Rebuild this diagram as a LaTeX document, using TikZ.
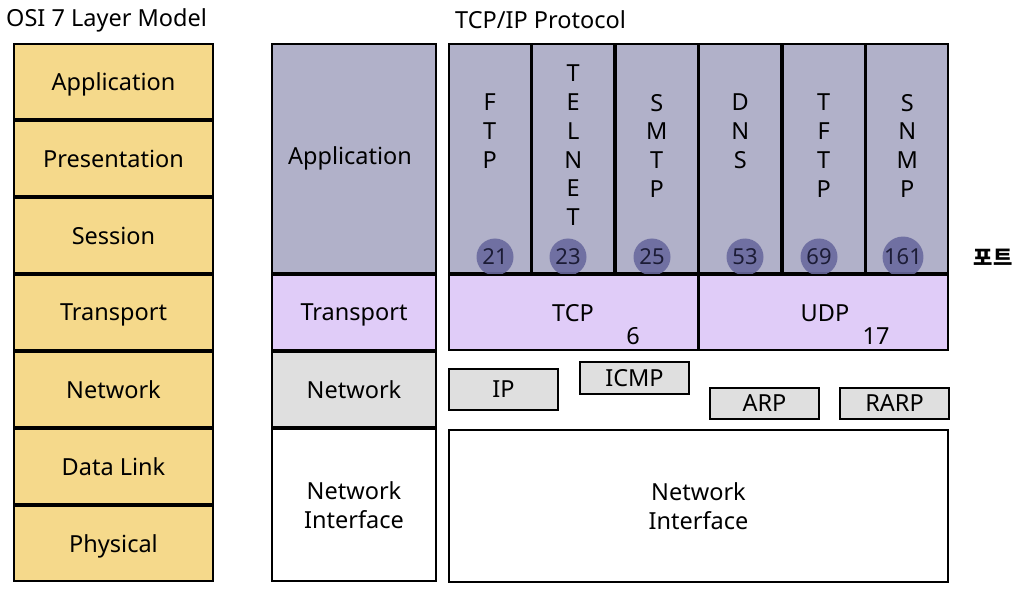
\documentclass[tikz,border=0pt]{standalone}
\usepackage{fontspec}
\setmainfont{Noto Sans}
\newfontfamily\krfont{Noto Sans CJK KR}
\usetikzlibrary{positioning}

\definecolor{osiyellow}{HTML}{F5D98B}
\definecolor{appgray}{HTML}{B1B1C9}
\definecolor{translav}{HTML}{E0CCF8}
\definecolor{netgray}{HTML}{DFDFDF}
\definecolor{portblue}{HTML}{6A6A9E}
\definecolor{portink}{HTML}{1C1C36}

\tikzset{
    txt/.style={font=\fontsize{23.5}{28.7}\selectfont, inner sep=0pt, align=center},
    layer/.style={txt, draw=black, line width=1.6pt, anchor=north west, text depth=0pt},
    osi/.style={layer, fill=osiyellow, minimum width=199.4pt, minimum height=75.4pt},
    mid/.style={layer, minimum width=164.4pt, minimum height=75.4pt},
    appcol/.style={layer, fill=appgray, minimum width=81.9pt, minimum height=229.4pt},
    trans/.style={layer, fill=translav, minimum width=248.9pt, minimum height=75.4pt},
    proto/.style={layer, fill=netgray, minimum width=109.4pt},
    port/.style={circle, fill=portblue, fill opacity=0.9, text opacity=1, minimum size=37pt,
        inner sep=0pt, font=\fontsize{22}{22}\selectfont, text=portink},
}

\begin{document}
\begin{tikzpicture}[x=1pt, y=-1pt]
    \useasboundingbox (0,0) rectangle (1026,596);

    % titles
    \node[txt, anchor=west] (t_osi) at (6,20) {OSI 7 Layer Model};
    \node[txt, anchor=west] (t_tcpip) at (455,20) {TCP/IP Protocol};

    % osi
    \node[osi] (osi_app) at (13,43) {Application};
    \node[osi, below=0pt of osi_app] (osi_pre) {Presentation};
    \node[osi, below=0pt of osi_pre] (osi_ses) {Session};
    \node[osi, below=0pt of osi_ses] (osi_tra) {Transport};
    \node[osi, below=0pt of osi_tra] (osi_net) {Network};
    \node[osi, below=0pt of osi_net] (osi_dl) {Data Link};
    \node[osi, below=0pt of osi_dl] (osi_phy) {Physical};

    % tcp/ip layers
    \node[mid, fill=appgray, minimum height=229.4pt] (l_app) at (271,43) {};
    \node[txt] (l_app_lbl) at (350,158) {Application};
    \node[mid, fill=translav, below=0pt of l_app] (l_tra) {Transport};
    \node[mid, fill=netgray, below=0pt of l_tra] (l_net) {Network};
    \node[mid, fill=white, minimum height=152.4pt, below=0pt of l_net] (l_ni) {Network\\Interface};

    % application protocols
    \node[appcol] (c_ftp) at (448,43) {};
    \node[appcol, right=0pt of c_ftp] (c_telnet) {};
    \node[appcol, right=0pt of c_telnet] (c_smtp) {};
    \node[appcol, right=0pt of c_smtp] (c_dns) {};
    \node[appcol, right=0pt of c_dns] (c_tftp) {};
    \node[appcol, right=0pt of c_tftp] (c_snmp) {};

    \node[txt, anchor=north, below=51pt of c_ftp.north] {F\\T\\P};
    \node[txt, anchor=north, below=22pt of c_telnet.north] {T\\E\\L\\N\\E\\T};
    \node[txt, anchor=north, below=51pt of c_smtp.north] {S\\M\\T\\P};
    \node[txt, anchor=north, below=51pt of c_dns.north] {D\\N\\S};
    \node[txt, anchor=north, below=51pt of c_tftp.north] {T\\F\\T\\P};
    \node[txt, anchor=north, below=51pt of c_snmp.north] {S\\N\\M\\P};

    % ports
    \node[port] (p_ftp) at (495,257) {21};
    \node[port] (p_telnet) at (568,257) {23};
    \node[port] (p_smtp) at (652,257) {25};
    \node[port] (p_dns) at (745,257) {53};
    \node[port] (p_tftp) at (819,257) {69};
    \node[port] (p_snmp) at (903,257) {161};
    \node[font=\krfont\bfseries\fontsize{21}{21}\selectfont, inner sep=0pt] (port_lbl) at (993,257) {포트};

    % transport
    \node[trans] (tcp) at (c_ftp.south west) {};
    \node[trans, right=0pt of tcp] (udp) {};
    \node[txt] (tcp_lbl) at (573,313) {TCP};
    \node[txt] (tcp_no) at (633,336) {6};
    \node[txt] (udp_lbl) at (825,313) {UDP};
    \node[txt] (udp_no) at (876,336) {17};

    % network
    \node[proto, minimum height=41.4pt] (ip) at (448,368) {IP};
    \node[proto, minimum height=32.4pt] (icmp) at (579,361) {ICMP};
    \node[proto, minimum height=31.4pt] (arp) at (709,387) {ARP};
    \node[proto, minimum height=31.4pt] (rarp) at (839,387) {RARP};

    \node[layer, fill=white, minimum width=499.4pt, minimum height=152.4pt] (ni) at (448,429) {Network\\Interface};
\end{tikzpicture}
\end{document}
